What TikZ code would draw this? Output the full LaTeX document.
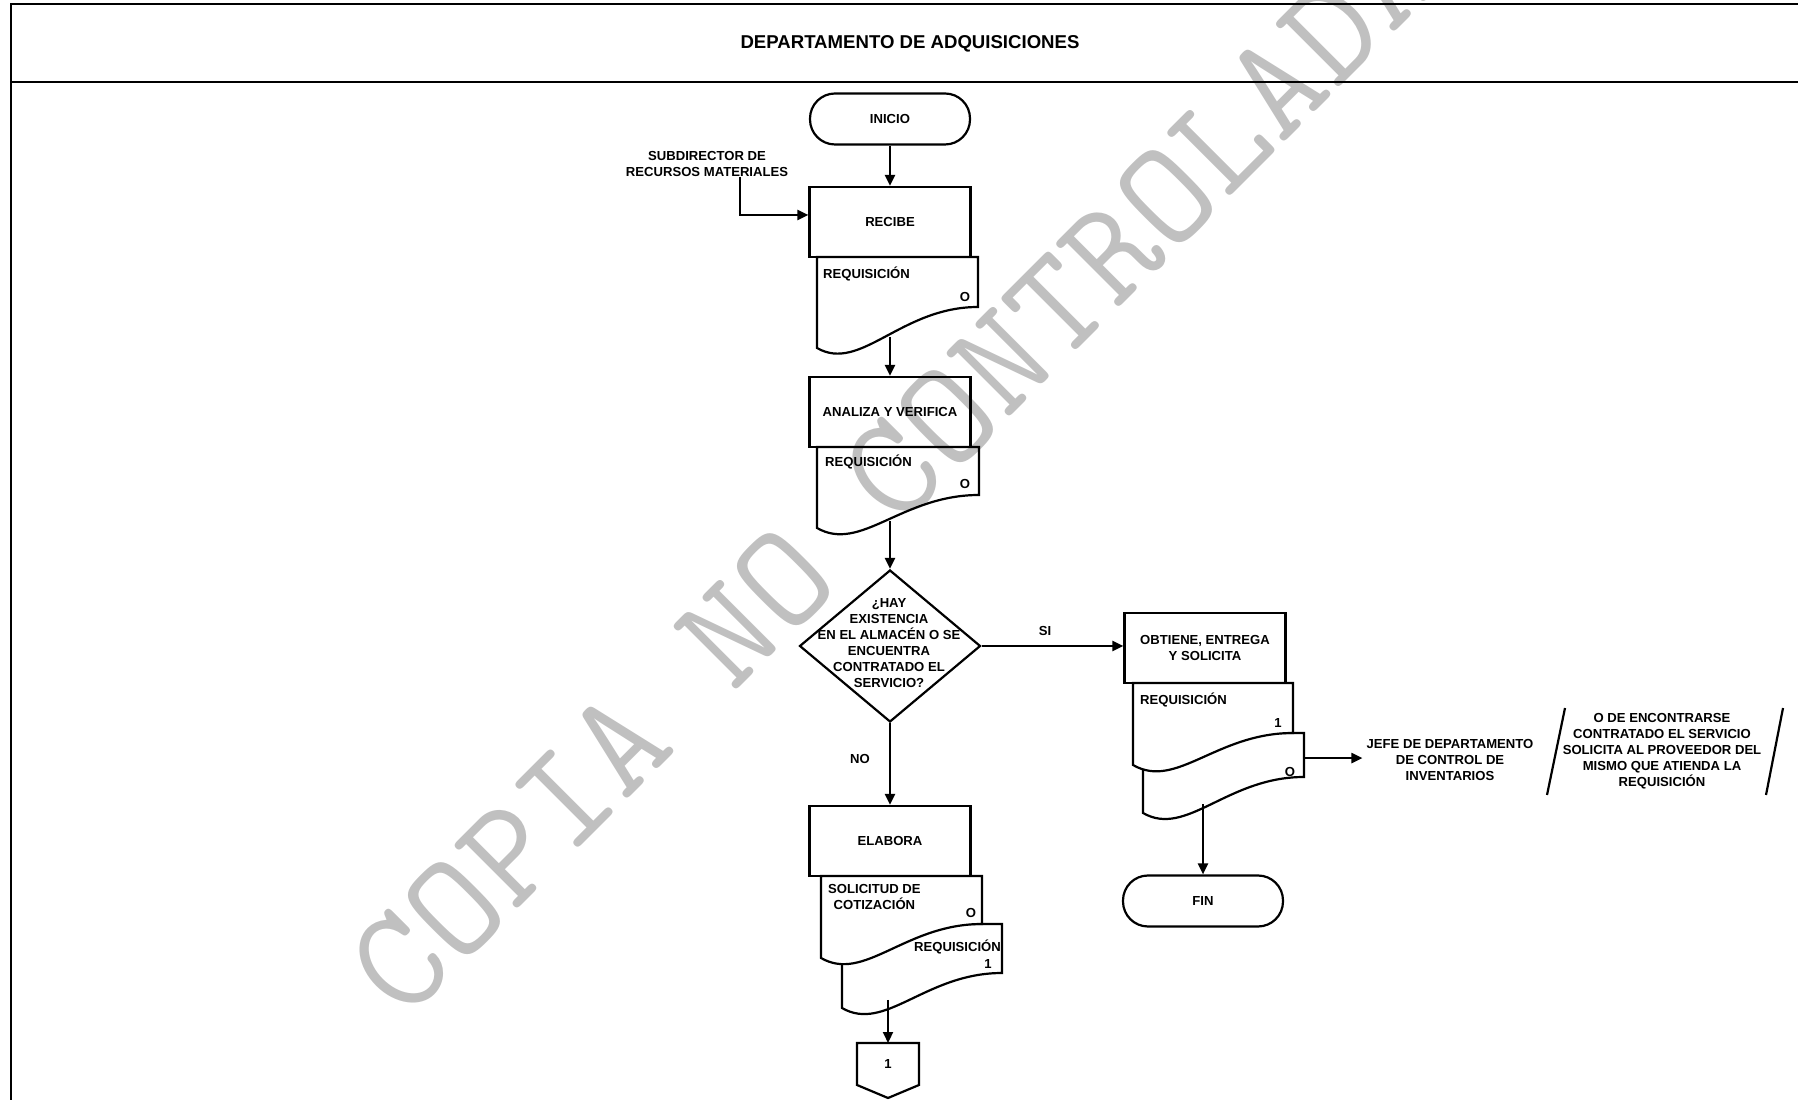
\documentclass[tikz,border=0pt]{standalone}
\usepackage{fontspec}
\setmainfont{Liberation Sans}
\newfontfamily\markfont[LetterSpace=1]{Latin Modern Mono}
\usetikzlibrary{arrows.meta,calc,shapes.geometric}

\definecolor{markgray}{RGB}{192,192,192}

\tikzset{
  proc/.style={draw, line width=2.2pt, fill=white, align=center, minimum width=161pt, minimum height=70pt, inner sep=2pt},
  term/.style={draw, line width=2.2pt, fill=white, rounded corners=25pt, minimum width=160pt, minimum height=51pt},
  decision/.style={draw, diamond, line width=2.2pt, fill=white, minimum width=181pt, minimum height=152pt, inner sep=0pt},
  docu/.style={draw, line width=2.2pt, fill=white},
  lbl/.style={inner sep=0pt, align=center},
  arr/.style={line width=2.2pt, -{Triangle[length=11pt,width=10pt]}},
}

% document symbol: name, left x, top y, width, left height, right height
\newcommand{\docshape}[6]{%
  \path[docu] (#2,#3) coordinate (#1-nw) -- (#2+#4,#3) coordinate (#1-ne)
    -- (#2+#4,#3-#6) coordinate (#1-se)
    .. controls (#2+0.52*#4,#3-#6) and (#2+0.27*#4,#3-#5-25) ..
    (#2,#3-#5) coordinate[pos=0.5] (#1-b) coordinate (#1-sw) -- cycle;}

\begin{document}
\begin{tikzpicture}[x=1pt, y=1pt, font=\fontsize{13.1}{16}\selectfont\bfseries]
  \useasboundingbox (0,0) rectangle (1798,1100);
  \clip (0,0) rectangle (1798,1100);

  % frame and header
  \draw[line width=2pt] (1798,1096) -- (11,1096) -- (11,0);
  \draw[line width=2.6pt] (11,1018) -- (1798,1018);
  \node[lbl, font=\fontsize{18.6}{22}\selectfont\bfseries] (depto) at (910,1056) {DEPARTAMENTO DE ADQUISICIONES};

  % main column
  \node[term] (inicio) at (890,981) {INICIO};
  \node[lbl] (subdir) at (707,936) {SUBDIRECTOR DE\\RECURSOS MATERIALES};
  \node[proc] (recibe) at (890,878) {RECIBE};
  \docshape{d1}{817}{843}{161}{91}{50}
  \node[lbl, anchor=west] (d1t) at (823,826) {REQUISICIÓN};
  \node[lbl] (d1o) at (965,803) {O};

  \node[proc] (analiza) at (890,688) {ANALIZA Y VERIFICA};
  \docshape{d2}{817}{653}{162}{81}{48}
  \node[lbl, anchor=west] (d2t) at (825,638) {REQUISICIÓN};
  \node[lbl] (d2o) at (965,616) {O};

  \node[decision] (hay) at (890,454) {};
  \node[lbl] (hayt) at (889,457) {¿HAY\\EXISTENCIA\\EN EL ALMACÉN O SE\\ENCUENTRA\\CONTRATADO EL\\SERVICIO?};
  \node[lbl] (si) at (1045,469) {SI};
  \node[lbl] (no) at (860,341) {NO};

  \node[proc] (elabora) at (890,259) {ELABORA};
  \docshape{d5}{842}{176}{160}{84}{49}
  \docshape{d4}{821}{224}{161}{82}{48}
  \node[lbl, anchor=west] (d4t) at (828,203) {SOLICITUD DE\\COTIZACIÓN};
  \node[lbl] (d4o) at (971,187) {O};
  \node[lbl, anchor=east] (d5t) at (1001,153) {REQUISICIÓN};
  \node[lbl] (d5o) at (988,136) {1};

  % off-page connector
  \draw[docu] (857,57) -- (919,57) -- (919,15) -- (888,2) -- (857,15) -- cycle;
  \coordinate (off-n) at (888,57);
  \node[lbl] (offt) at (888,36) {1};

  % right column
  \node[proc] (obtiene) at (1205,452) {OBTIENE, ENTREGA\\Y SOLICITA};
  \docshape{r2}{1143}{367}{161}{80}{44}
  \docshape{r1}{1133}{417}{160}{82}{50}
  \node[lbl, anchor=west] (r1t) at (1140,400) {REQUISICIÓN};
  \node[lbl] (r1o) at (1278,377) {1};
  \node[lbl] (r2o) at (1290,328) {O};
  \coordinate (r2-e) at ($(r2-ne)!0.57!(r2-se)$);

  \node[lbl] (jefe) at (1450,340) {JEFE DE DEPARTAMENTO\\DE CONTROL DE\\INVENTARIOS};
  \node[term] (fin) at (1203,199) {FIN};

  \node[lbl] (nota) at (1662,349) {O DE ENCONTRARSE\\CONTRATADO EL SERVICIO\\SOLICITA AL PROVEEDOR DEL\\MISMO QUE ATIENDA LA\\REQUISICIÓN};
  \draw[line width=2.2pt] ($(nota)+(-97,43)$) -- ($(nota)+(-115,-44)$);
  \draw[line width=2.2pt] ($(nota)+(121,43)$) -- ($(nota)+(104,-44)$);

  % connectors
  \draw[arr] (inicio) -- (recibe);
  \draw[arr] ([xshift=33pt]subdir.south) |- ([yshift=7pt]recibe.west);
  \draw[arr] (recibe.south |- d1-b) -- (analiza.north);
  \draw[arr] (analiza.south |- d2-b) -- (hay.north);
  \draw[arr] (hay.east) -- (hay.east -| obtiene.west);
  \draw[arr] (hay.south) -- (elabora.north);
  \draw[arr] (off-n |- d5-b) -- (off-n);
  \draw[arr, shorten >=4pt] (r2-e) -- (r2-e -| jefe.west);
  \draw[arr] (fin.north |- r2-b) -- (fin.north);

  % watermark
  \begin{scope}[blend mode=multiply]
    \node[text=markgray, font=\markfont\fontsize{148}{148}\selectfont, rotate=45] (marca) at (893,630) {COPIA NO CONTROLADA};
  \end{scope}
\end{tikzpicture}
\end{document}
